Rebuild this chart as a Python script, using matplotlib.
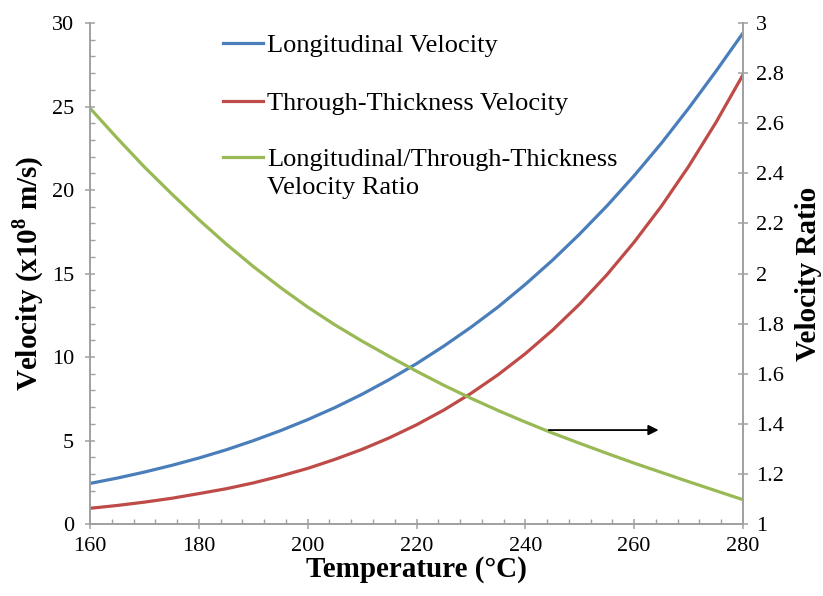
import matplotlib
matplotlib.use('Agg')
import matplotlib.pyplot as plt
from matplotlib.ticker import MultipleLocator, FuncFormatter

plt.rcParams['font.family'] = ['Liberation Serif', 'DejaVu Serif']
plt.rcParams['mathtext.fontset'] = 'custom'
plt.rcParams['mathtext.rm'] = 'Liberation Serif'
plt.rcParams['mathtext.bf'] = 'Liberation Serif:bold'

# values
temperature = [160, 165, 170, 175, 180, 185, 190, 195, 200, 205, 210, 215, 220,
               225, 230, 235, 240, 245, 250, 255, 260, 265, 270, 275, 280]
long_vel = [2.43, 2.75, 3.11, 3.51, 3.95, 4.44, 4.99, 5.59, 6.25, 6.97, 7.77, 8.65, 9.6,
            10.65, 11.78, 13.0, 14.35, 15.8, 17.37, 19.05, 20.86, 22.8, 24.89, 27.1, 29.4]
thick_vel = [0.94, 1.11, 1.31, 1.54, 1.82, 2.11, 2.46, 2.87, 3.33, 3.87, 4.47, 5.16, 5.94,
             6.82, 7.82, 8.94, 10.2, 11.61, 13.18, 14.93, 16.88, 19.03, 21.41, 24.03, 26.9]
vel_ratio = [2.66, 2.54, 2.425, 2.318, 2.215, 2.118, 2.028, 1.944, 1.866, 1.795, 1.73, 1.669, 1.61,
             1.554, 1.502, 1.453, 1.407, 1.363, 1.322, 1.282, 1.243, 1.206, 1.169, 1.133, 1.097]

blue, red, green = '#4A7EBB', '#BE4B48', '#98B954'
axis_grey = '#A0A0A0'

fig = plt.figure(figsize=(8.23, 5.96), dpi=100)
ax = fig.add_axes([0.1094, 0.1208, 0.7934, 0.8406])
ax2 = ax.twinx()

l1, = ax.plot(temperature, long_vel, color=blue, lw=2.3, label='Longitudinal Velocity')
l2, = ax.plot(temperature, thick_vel, color=red, lw=2.3, label='Through-Thickness Velocity')
l3, = ax2.plot(temperature, vel_ratio, color=green, lw=2.3,
               label='Longitudinal/Through-Thickness\nVelocity Ratio')

ax.set_xlim(160, 280)
ax.set_ylim(0, 30)
ax2.set_ylim(1, 3)

ax.xaxis.set_major_locator(MultipleLocator(20))
ax.xaxis.set_minor_locator(MultipleLocator(4))
ax.yaxis.set_major_locator(MultipleLocator(5))
ax.yaxis.set_minor_locator(MultipleLocator(1))
ax2.yaxis.set_major_locator(MultipleLocator(0.2))
ax2.yaxis.set_major_formatter(FuncFormatter(lambda v, p: '%g' % round(v, 1)))

for a in (ax, ax2):
    for s in a.spines.values():
        s.set_color(axis_grey)
        s.set_linewidth(1.2)
    a.spines['top'].set_visible(False)
    a.tick_params(which='major', direction='inout', length=7, width=1.1,
                  color=axis_grey, labelsize=16, labelcolor='black')
    a.tick_params(which='minor', direction='in', length=3.5, width=1.0, color=axis_grey)

ax.tick_params(axis='x', pad=6)
ax.tick_params(axis='y', pad=8)
ax2.tick_params(axis='y', pad=6)

ax.set_xlabel('Temperature (\u00b0C)', fontsize=21, fontweight='bold', labelpad=0)
ax.set_ylabel('Velocity (x10$^{\\mathbf{8}}$ m/s)', fontsize=21, fontweight='bold', labelpad=4)
ax2.set_ylabel('Velocity Ratio', fontsize=21, fontweight='bold', labelpad=8)

ax2.annotate('', xy=(265, 1.375), xytext=(243.8, 1.375),
             arrowprops=dict(arrowstyle='-|>', color='black', lw=1.3, mutation_scale=15))

leg = ax.legend(handles=[l1, l2, l3], loc='upper left', bbox_to_anchor=(0.204, 0.979),
                frameon=False, fontsize=19, handlelength=1.5, handletextpad=0.15,
                labelspacing=1.3, borderpad=0, borderaxespad=0)
leg.get_texts()[2].set_linespacing(1.35)
# lift the green key up to the first line of its two-line label
g = leg.get_lines()[2]
g.set_ydata([v + 11.5 for v in g.get_ydata()])

fig.savefig('out.png', dpi=100)
